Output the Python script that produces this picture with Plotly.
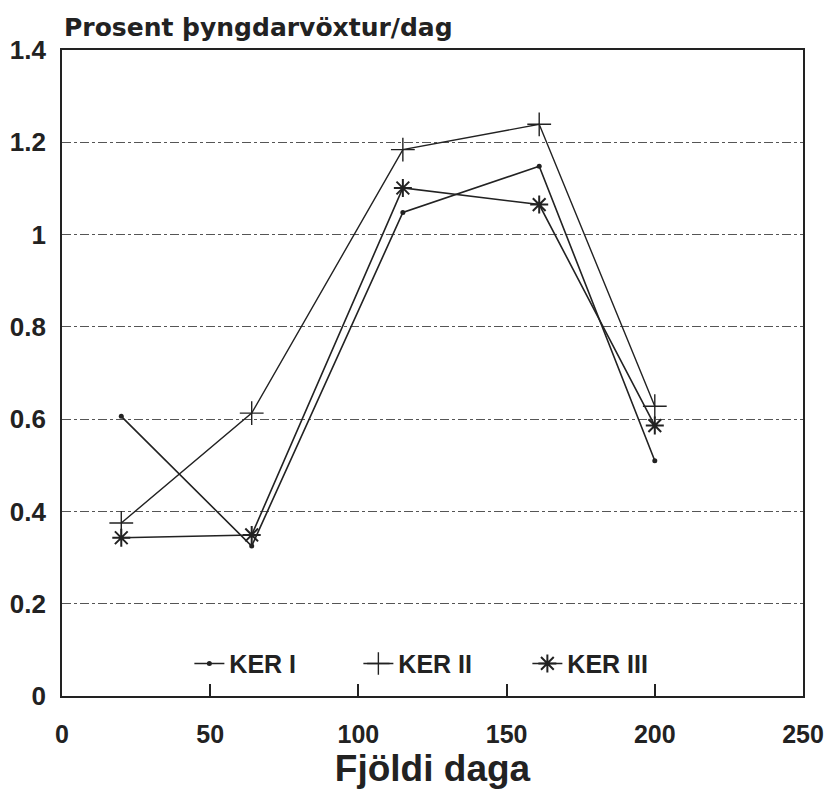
import plotly.graph_objects as go

days = [20, 64, 115, 161, 200]
ker1 = [0.606, 0.325, 1.048, 1.148, 0.51]
ker2 = [0.375, 0.613, 1.184, 1.239, 0.628]
ker3 = [0.343, 0.349, 1.101, 1.065, 0.586]
names = ["KER I", "KER II", "KER III"]
xticks = [0, 50, 100, 150, 200, 250]
yticks = [0, 0.2, 0.4, 0.6, 0.8, 1, 1.2, 1.4]
yticklabels = ["0", "0.2", "0.4", "0.6", "0.8", "1", "1.2", "1.4"]

SANS = "Liberation Sans, Arial, Helvetica"
WIDE = "DejaVu Sans, Verdana"
INK = "#222"

fig = go.Figure()
fig.add_trace(go.Scatter(x=days, y=ker1, name=names[0], mode="lines+markers",
                         line=dict(color=INK, width=1.6),
                         marker=dict(symbol="circle", size=5, color=INK)))
fig.add_trace(go.Scatter(x=days, y=ker2, name=names[1], mode="lines+markers",
                         line=dict(color=INK, width=1.4),
                         marker=dict(symbol="cross-thin", size=17,
                                     line=dict(color=INK, width=1.4))))
fig.add_trace(go.Scatter(x=days, y=ker3, name=names[2], mode="lines+markers",
                         line=dict(color=INK, width=1.6),
                         marker=dict(symbol="asterisk", size=15,
                                     line=dict(color=INK, width=2))))

# page body adds an 8px offset, so the figure is 8px smaller than the window
fig.update_layout(
    width=824, height=790,
    margin=dict(l=54, r=29, t=42, b=102, autoexpand=False),
    paper_bgcolor="white", plot_bgcolor="white",
    showlegend=True,
    legend=dict(orientation="h", x=0.514, xanchor="center", y=0.05, yanchor="middle",
                font=dict(family=SANS, size=25, color=INK, weight="bold"),
                bgcolor="rgba(0,0,0,0)", entrywidth=124, entrywidthmode="pixels"),
    font=dict(family=SANS, color=INK),
)
fig.update_xaxes(range=[0, 250], tickvals=xticks,
                 ticks="inside", ticklen=12, tickwidth=1.5, tickcolor=INK,
                 showline=True, linecolor=INK, linewidth=1.6, mirror=True,
                 showgrid=False, zeroline=False, automargin=False,
                 ticklabelstandoff=15,
                 tickfont=dict(family=SANS, size=25, color=INK, weight="bold"),
                 title=dict(text="Fjöldi daga",
                            font=dict(family=SANS, size=37, color=INK, weight="bold"),
                            standoff=3))
fig.update_yaxes(range=[0, 1.4], tickvals=yticks, ticktext=yticklabels,
                 ticks="", showline=True, linecolor=INK, linewidth=1.6, mirror=True,
                 showgrid=True, gridcolor="#555", gridwidth=1, griddash="dashdot",
                 zeroline=False, automargin=False, ticklabelstandoff=9,
                 tickfont=dict(family=SANS, size=26, color=INK, weight="bold"))
fig.add_annotation(text="Prosent þyngdarvöxtur/dag", xref="paper", yref="paper",
                   x=0, y=1, xanchor="left", yanchor="bottom", yshift=6, showarrow=False,
                   font=dict(family=WIDE, size=25, color=INK, weight="bold"))

fig.write_html("out.html")
